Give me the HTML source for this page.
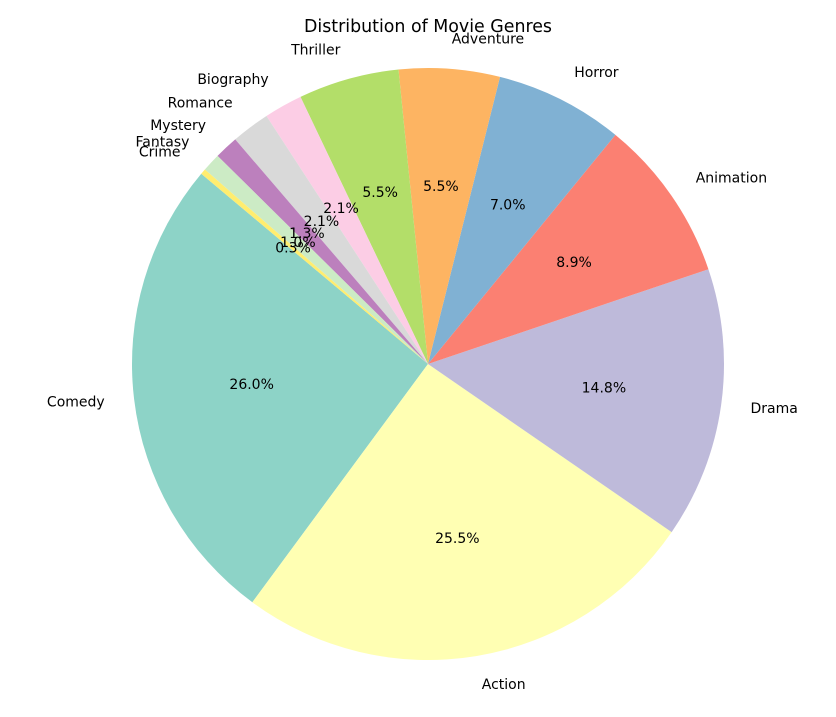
<!DOCTYPE html>
<html>
<head>
<meta charset="utf-8">
<style>
  html, body { margin: 0; padding: 0; background: #ffffff; }
  svg { display: block; font-family: "DejaVu Sans", "Liberation Sans", sans-serif; }
</style>
</head>
<body>
<svg id="chart" width="836" height="717" viewBox="0 0 836 717" xmlns="http://www.w3.org/2000/svg">
  <text x="428" y="32" text-anchor="middle" font-size="17.4" fill="#000">Distribution of Movie Genres</text>
  <g id="slices"></g>
  <g id="labels"></g>
</svg>
<script>
const categories = ["Comedy","Action","Drama","Animation","Horror","Adventure","Thriller","Biography","Romance","Mystery","Fantasy","Crime"];
const values = [26.0,25.5,14.8,8.9,7.0,5.5,5.5,2.1,2.1,1.3,1.0,0.3];
const pctLabels = ["26.0%","25.5%","14.8%","8.9%","7.0%","5.5%","5.5%","2.1%","2.1%","1.3%","1.0%","0.3%"];
const colors = ["#8dd3c7","#ffffb3","#bebada","#fb8072","#80b1d3","#fdb462","#b3de69","#fccde5","#d9d9d9","#bc80bd","#ccebc5","#ffed6f"];

const cx = 428, cy = 364, R = 296, startAngle = 140;
const NS = "http://www.w3.org/2000/svg";
const gS = document.getElementById("slices");
const gL = document.getElementById("labels");
const total = values.reduce((a, b) => a + b, 0);
function pt(angDeg, r) {
  const a = angDeg * Math.PI / 180;
  return [cx + r * Math.cos(a), cy - r * Math.sin(a)];
}
let ang = startAngle;
values.forEach((v, i) => {
  const sweep = v / total * 360;
  const a0 = ang, a1 = ang + sweep;
  const p0 = pt(a0, R), p1 = pt(a1, R);
  const large = sweep > 180 ? 1 : 0;
  const path = document.createElementNS(NS, "path");
  path.setAttribute("d", `M${cx},${cy} L${p0[0]},${p0[1]} A${R},${R} 0 ${large} 0 ${p1[0]},${p1[1]} Z`);
  path.setAttribute("fill", colors[i]);
  
  
  gS.appendChild(path);

  const mid = (a0 + a1) / 2;
  const lp = pt(mid, R * 1.1);
  const t = document.createElementNS(NS, "text");
  t.setAttribute("x", lp[0]);
  t.setAttribute("y", lp[1]);
  t.setAttribute("font-size", "14");
  t.setAttribute("dominant-baseline", "central");
  t.setAttribute("text-anchor", Math.cos(mid * Math.PI / 180) > 0 ? "start" : "end");
  t.textContent = categories[i];
  
  
  gL.appendChild(t);

  const pp = pt(mid, R * 0.6);
  const p = document.createElementNS(NS, "text");
  p.setAttribute("x", pp[0]);
  p.setAttribute("y", pp[1]);
  p.setAttribute("font-size", "14");
  p.setAttribute("dominant-baseline", "central");
  p.setAttribute("text-anchor", "middle");
  p.textContent = pctLabels[i];
  
  
  gL.appendChild(p);

  ang = a1;
});
</script>
</body>
</html>
